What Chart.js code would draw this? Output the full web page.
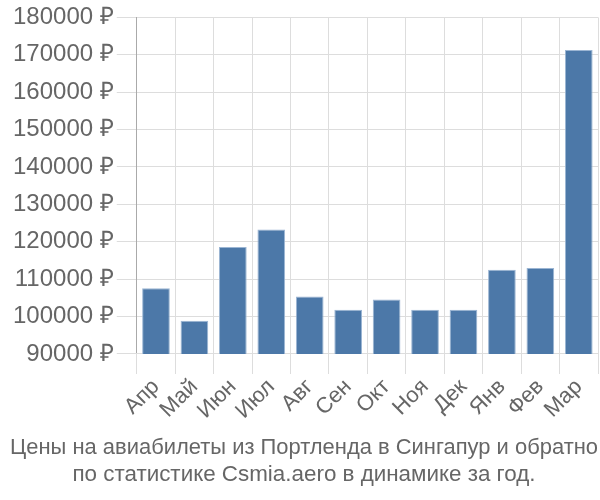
<!DOCTYPE html>
<html>
<head>
<meta charset="utf-8">
<script src="https://cdn.jsdelivr.net/npm/chart.js@4/dist/chart.umd.min.js"></script>
<style>
  html, body { margin: 0; padding: 0; background: #fff; }
  #wrap { width: 600px; height: 500px; }
</style>
</head>
<body>
<div id="wrap"><canvas id="priceChart"></canvas></div>
<script>
var months = ["Апр", "Май", "Июн", "Июл", "Авг", "Сен", "Окт", "Ноя", "Дек", "Янв", "Фев", "Мар"];
var prices = [107600, 98900, 118600, 123300, 105400, 101800, 104600, 101800, 101800, 112500, 113000, 171300];
var titleLines = ["Цены на авиабилеты из Портленда в Сингапур и обратно", "по статистике Csmia.aero в динамике за год."];

var fontName = "'Liberation Sans', Arial, sans-serif";

var ctx = document.getElementById("priceChart");
var chart = new Chart(ctx, {
  type: 'bar',
  data: {
    labels: months,
    datasets: [{
      label: "Цена",
      data: prices,
      backgroundColor: "#4c78a8",
      borderColor: "#9bb5d3",
      borderWidth: 1,
      categoryPercentage: 0.72,
      barPercentage: 1
    }]
  },
  options: {
    responsive: true,
    maintainAspectRatio: false,
    animation: false,
    layout: { padding: { top: 1, right: 2, left: 10, bottom: 0 } },
    plugins: {
      legend: { display: false },
      tooltip: { enabled: false },
      title: {
        display: true,
        position: 'bottom',
        text: titleLines,
        color: "#666",
        font: { family: fontName, size: 22.4, weight: 'normal' },
        padding: { top: 10, bottom: 12 },
        lineHeight: 1.16
      }
    },
    scales: {
      y: {
        min: 90000,
        max: 180000,
        ticks: {
          stepSize: 10000,
          color: "#666",
          padding: 3,
          font: { family: fontName, size: 24 },
          callback: function(v) { return v + " ₽"; }
        },
        grid: { color: "#dddddd", tickLength: 20 },
        border: { color: "#aaaaaa" }
      },
      x: {
        ticks: {
          color: "#666",
          autoSkip: false,
          maxRotation: 45,
          minRotation: 45,
          padding: 0,
          font: { family: fontName, size: 22 }
        },
        grid: { color: "#dddddd", tickLength: 20 },
        border: { color: "#dddddd" }
      }
    }
  }
});
</script>
</body>
</html>
